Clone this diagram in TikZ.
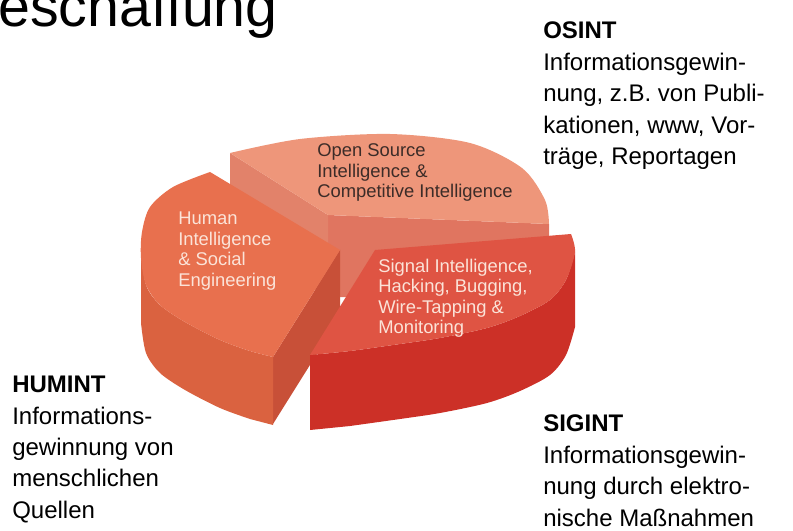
\documentclass[tikz,border=0pt]{standalone}
\usepackage{fontspec}
\setmainfont{Liberation Sans}
\definecolor{osinttop}{RGB}{238,150,122}
\definecolor{osintleft}{RGB}{226,130,106}
\definecolor{osintfront}{RGB}{224,117,96}
\definecolor{humtop}{RGB}{232,112,78}
\definecolor{humside}{RGB}{218,98,64}
\definecolor{humcut}{RGB}{200,80,56}
\definecolor{sigtop}{RGB}{223,84,67}
\definecolor{sigside}{RGB}{204,48,39}
\definecolor{darktext}{RGB}{60,44,40}
\definecolor{lighttext}{RGB}{251,227,216}

\begin{document}
\begin{tikzpicture}[x=0.75pt,y=-0.75pt,
    infotext/.style={anchor=north west,inner sep=0,align=left,font=\fontsize{18}{23.6}\selectfont},
    pietext/.style={anchor=north west,inner sep=0,align=left,font=\fontsize{13.8}{15.4}\selectfont}]
    \useasboundingbox (0,0) rectangle (793,531);
    \clip (0,0) rectangle (793,531);

    \node[anchor=base west,inner sep=0,font=\fontsize{43}{43}\selectfont] (title) at (-2,27) {eschaffung};

    \fill[osintfront] (328,215) -- (549,224) -- (549,297) -- (328,297) -- cycle;
    \fill[osintleft] (230,153) -- (328,215) -- (328,297) -- (230,240) -- cycle;
    \fill[osinttop] plot[smooth] coordinates {(230,153) (300,139) (390,134) (470,143) (522,168) (545,200) (549,224)} -- (328,215) -- cycle;

    \fill[humcut] (273,357) -- (340,250) -- (340,317) -- (273,424) -- cycle;
    \fill[humside] plot[smooth] coordinates {(141,250) (146,285) (160,305) (185,322) (220,340) (250,351) (273,357)} -- (273,425)
        -- plot[smooth] coordinates {(250,419) (220,408) (185,390) (160,373) (146,353) (141,323)} -- cycle;
    \fill[humtop] (340,250) -- plot[smooth] coordinates {(273,357) (250,351) (220,340) (185,322) (160,305) (146,285) (141,258) (142,232) (150,207) (173,187) (210,172)} -- cycle;

    \fill[sigside] plot[smooth] coordinates {(575,252) (566,280) (550,300) (520,316) (487,328) (440,338) (400,344) (350,351) (310,355)} -- (310,430)
        -- plot[smooth] coordinates {(350,426) (400,419) (440,413) (487,403) (520,391) (550,375) (566,355) (575,327)} -- cycle;
    \fill[sigtop] (375,250) -- plot[smooth] coordinates {(571,234) (575,252) (566,280) (550,300) (520,316) (487,328) (440,338) (400,344) (350,351) (310,355)} -- cycle;

    \node[pietext,text=darktext] (osintpie) at (317,143.6) {Open Source\\Intelligence \&\\Competitive Intelligence};
    \node[pietext,text=lighttext] (humintpie) at (178,211.8) {Human\\Intelligence\\\& Social\\Engineering};
    \node[pietext,text=lighttext] (sigintpie) at (378,258.6) {Signal Intelligence,\\Hacking, Bugging,\\Wire-Tapping \&\\Monitoring};

    \node[infotext] (osint) at (543,21.8) {\textbf{OSINT}\\Informationsgewin-\\nung, z.B. von Publi-\\kationen, www, Vor-\\träge, Reportagen};
    \node[infotext] (humint) at (12,375.8) {\textbf{HUMINT}\\Informations-\\gewinnung von\\menschlichen\\Quellen};
    \node[infotext] (sigint) at (543,414.8) {\textbf{SIGINT}\\Informationsgewin-\\nung durch elektro-\\nische Maßnahmen};
\end{tikzpicture}
\end{document}
